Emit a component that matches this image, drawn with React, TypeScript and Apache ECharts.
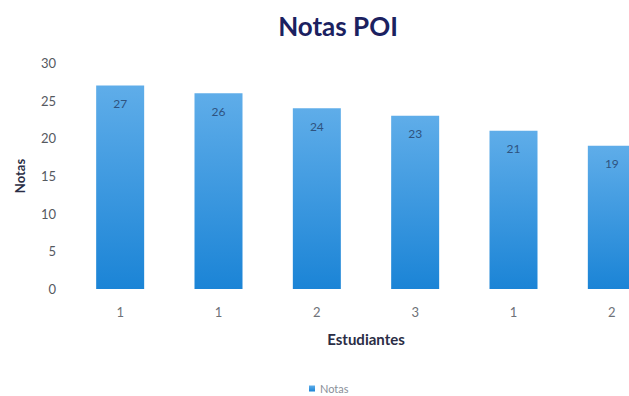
import React, { useEffect, useRef } from "react";
import * as echarts from "echarts";

const categories = ["1", "1", "2", "3", "1", "2"];
const notas = [27, 26, 24, 23, 21, 19];
const yMin = 0;
const yMax = 30;
const yInterval = 5;

export default function App() {
  const ref = useRef<HTMLDivElement>(null);
  useEffect(() => {
    const chart = echarts.init(ref.current!, null, { renderer: "svg" });
    const font = "Lato, 'Open Sans', sans-serif";
    chart.setOption({
      animation: false,
      backgroundColor: "#ffffff",
      title: {
        text: "Notas POI",
        left: 333,
        textAlign: "center",
        top: 8,
        textStyle: { fontFamily: font, fontSize: 26, fontWeight: "bold", color: "#1b2160" },
      },
      legend: {
        data: ["Notas"],
        left: 304,
        top: 378,
        itemWidth: 6,
        itemHeight: 6,
        itemGap: 3,
        icon: "rect",
        textStyle: { fontFamily: font, fontSize: 11, color: "#8a8f99" },
      },
      grid: {
        left: 71,
        top: 63,
        width: 590,
        height: 226,
        containLabel: false,
        outerBoundsMode: "none",
      },
      xAxis: {
        type: "category",
        data: categories,
        name: "Estudiantes",
        nameLocation: "middle",
        nameGap: 42,
        nameTextStyle: { fontFamily: font, fontSize: 15, fontWeight: "bold", color: "#2a2d45" },
        axisLine: { show: false },
        axisTick: { show: false },
        axisLabel: { fontFamily: font, fontSize: 13, color: "#6e7278", margin: 16 },
      },
      yAxis: {
        type: "value",
        min: yMin,
        max: yMax,
        interval: yInterval,
        name: "Notas",
        nameLocation: "middle",
        nameGap: 45,
        nameRotate: 90,
        nameTextStyle: { fontFamily: font, fontSize: 13, fontWeight: "bold", color: "#2a2d45" },
        axisLine: { show: false },
        axisTick: { show: false },
        splitLine: { show: false },
        axisLabel: { fontFamily: font, fontSize: 13, color: "#55595f", margin: 15 },
      },
      series: [
        {
          name: "Notas",
          type: "bar",
          data: notas,
          barWidth: 48,
          itemStyle: {
            color: new echarts.graphic.LinearGradient(0, 0, 0, 1, [
              { offset: 0, color: "#5fade9" },
              { offset: 1, color: "#1b84d6" },
            ]),
          },
          label: {
            show: true,
            position: "insideTop",
            distance: 12,
            fontFamily: font,
            fontSize: 12,
            color: "#2f5380",
          },
        },
      ],
    });
    return () => chart.dispose();
  }, []);
  return (
    <div
      ref={ref}
      style={{ position: "absolute", left: 0, top: 0, width: 629, height: 396, overflow: "hidden" }}
    />
  );
}
